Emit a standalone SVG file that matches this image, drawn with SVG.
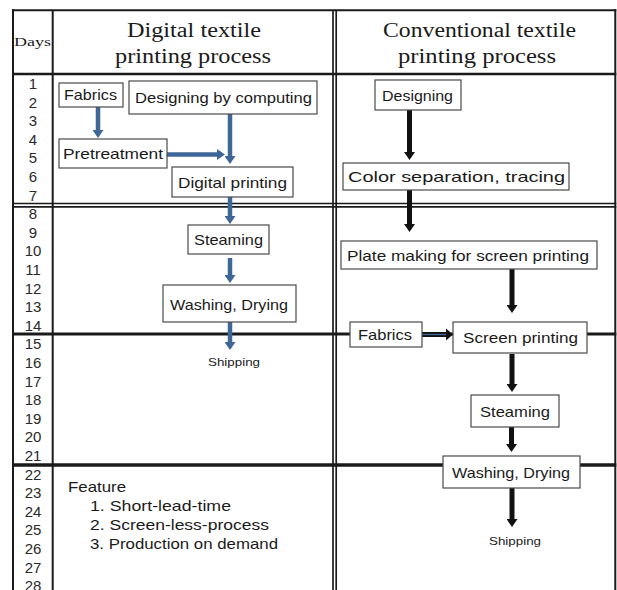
<svg xmlns="http://www.w3.org/2000/svg" width="617" height="590" viewBox="0 0 617 590">
<style>
.grid{stroke:#1a1a1a;fill:none}
.box{fill:#fff;stroke:#4a4a4a;stroke-width:1.2}
.t{font-family:"Liberation Sans",Arial,sans-serif;font-size:15px;fill:#1a1a1a;text-anchor:middle}
.s{font-family:"Liberation Sans",Arial,sans-serif;font-size:11px;fill:#1a1a1a;text-anchor:middle}
.h{font-family:"Liberation Serif","Times New Roman",serif;font-size:20px;fill:#1a1a1a;text-anchor:middle}
.d{font-family:"Liberation Sans",Arial,sans-serif;font-size:15px;fill:#2a2a2a;text-anchor:middle}
.f{font-family:"Liberation Sans",Arial,sans-serif;font-size:15px;fill:#1a1a1a}
.ab{stroke:#3e6797;stroke-width:4.5;fill:none;marker-end:url(#hb)}
.ak{stroke:#111;stroke-width:5;fill:none;marker-end:url(#hk)}
</style>
<defs>
<marker id="hb" markerUnits="userSpaceOnUse" viewBox="0 0 8 11" markerWidth="8" markerHeight="11" refX="0.5" refY="5.5" orient="auto"><path d="M0,0 L8,5.5 L0,11 z" fill="#3e6797"/></marker>
<marker id="hk" markerUnits="userSpaceOnUse" viewBox="0 0 8 11" markerWidth="8" markerHeight="11" refX="0.5" refY="5.5" orient="auto"><path d="M0,0 L8,5.5 L0,11 z" fill="#111"/></marker>
</defs>
<rect width="617" height="590" fill="#fff"/>
<g id="grid">
<line class="grid" x1="12" y1="10.3" x2="616.3" y2="10.3" stroke-width="2"/>
<line class="grid" x1="13" y1="9.3" x2="13" y2="590" stroke-width="2"/>
<line class="grid" x1="615.3" y1="9.3" x2="615.3" y2="590" stroke-width="2"/>
<line class="grid" x1="52.7" y1="10" x2="52.7" y2="590" stroke-width="2"/>
<line class="grid" x1="333" y1="10" x2="333" y2="590" stroke-width="1.7"/>
<line class="grid" x1="336.2" y1="10" x2="336.2" y2="590" stroke-width="1.7"/>
<line class="grid" x1="12" y1="74" x2="616.3" y2="74" stroke-width="2.7"/>
<line class="grid" x1="12" y1="203.5" x2="616.3" y2="203.5" stroke-width="1.7"/>
<line class="grid" x1="12" y1="206.8" x2="616.3" y2="206.8" stroke-width="1.7"/>
<line class="grid" x1="12" y1="334" x2="616.3" y2="334" stroke-width="3"/>
<line class="grid" x1="12" y1="465" x2="616.3" y2="465" stroke-width="3.3"/>
</g>
<g id="headers">
<text class="h" x="32.5" y="46" style="font-size:13px" textLength="37" lengthAdjust="spacingAndGlyphs">Days</text>
<text class="h" x="194" y="37" textLength="134" lengthAdjust="spacingAndGlyphs">Digital textile</text>
<text class="h" x="193" y="62.5" textLength="156" lengthAdjust="spacingAndGlyphs">printing process</text>
<text class="h" x="479.5" y="37" textLength="193" lengthAdjust="spacingAndGlyphs">Conventional textile</text>
<text class="h" x="477" y="62.5" textLength="158" lengthAdjust="spacingAndGlyphs">printing process</text>
</g>
<g id="days">
<text class="d" x="33" y="89">1</text>
<text class="d" x="33" y="107.6">2</text>
<text class="d" x="33" y="126.2">3</text>
<text class="d" x="33" y="144.8">4</text>
<text class="d" x="33" y="163.4">5</text>
<text class="d" x="33" y="182">6</text>
<text class="d" x="33" y="200.6">7</text>
<text class="d" x="33" y="219.2">8</text>
<text class="d" x="33" y="237.8">9</text>
<text class="d" x="33" y="256.4">10</text>
<text class="d" x="33" y="275">11</text>
<text class="d" x="33" y="293.6">12</text>
<text class="d" x="33" y="312.2">13</text>
<text class="d" x="33" y="330.8">14</text>
<text class="d" x="33" y="349.4">15</text>
<text class="d" x="33" y="368">16</text>
<text class="d" x="33" y="386.6">17</text>
<text class="d" x="33" y="405.2">18</text>
<text class="d" x="33" y="423.8">19</text>
<text class="d" x="33" y="442.4">20</text>
<text class="d" x="33" y="461">21</text>
<text class="d" x="33" y="479.6">22</text>
<text class="d" x="33" y="498.2">23</text>
<text class="d" x="33" y="516.8">24</text>
<text class="d" x="33" y="535.4">25</text>
<text class="d" x="33" y="554">26</text>
<text class="d" x="33" y="572.6">27</text>
<text class="d" x="33" y="591">28</text>
</g>
<g id="connectors">
<line class="ab" x1="98" y1="107" x2="98" y2="130.5"/>
<line class="ab" x1="230" y1="114" x2="230" y2="156.5"/>
<line class="ab" x1="167" y1="154.5" x2="217.5" y2="154.5"/>
<line class="ab" x1="230" y1="197" x2="230" y2="216.5"/>
<line class="ab" x1="230" y1="258" x2="230" y2="275.5"/>
<line class="ab" x1="230" y1="322" x2="230" y2="342.5"/>
<line class="ak" x1="409.5" y1="110" x2="409.5" y2="152.5"/>
<line class="ak" x1="409.5" y1="190" x2="409.5" y2="224.5"/>
<line class="ak" x1="512" y1="269" x2="512" y2="305.5"/>
<line class="ak" x1="512" y1="354" x2="512" y2="384.5"/>
<line class="ak" x1="511.5" y1="427" x2="511.5" y2="444.5"/>
<line class="ak" x1="512" y1="488" x2="512" y2="519.5"/>
<line x1="422" y1="334.5" x2="447" y2="334.5" stroke="#111" stroke-width="5"/>
<line x1="422" y1="334.5" x2="447" y2="334.5" stroke="#3e6797" stroke-width="1.3"/>
<path d="M446,328.5 L453,334.5 L446,340.5 z" fill="#111"/>
</g>
<g id="d-fabrics"><rect class="box" x="59" y="83" width="64" height="24"/><text class="t" x="90.5" y="100" textLength="53" lengthAdjust="spacingAndGlyphs">Fabrics</text></g>
<g id="d-designing"><rect class="box" x="129" y="81" width="188" height="33"/><text class="t" x="223.5" y="103" textLength="177" lengthAdjust="spacingAndGlyphs">Designing by computing</text></g>
<g id="d-pretreatment"><rect class="box" x="59" y="139" width="108" height="29"/><text class="t" x="113" y="159" textLength="100" lengthAdjust="spacingAndGlyphs">Pretreatment</text></g>
<g id="d-printing"><rect class="box" x="172" y="167" width="121" height="30"/><text class="t" x="232.5" y="188" textLength="109" lengthAdjust="spacingAndGlyphs">Digital printing</text></g>
<g id="d-steaming"><rect class="box" x="188" y="225" width="81" height="29"/><text class="t" x="228.5" y="245" textLength="69" lengthAdjust="spacingAndGlyphs">Steaming</text></g>
<g id="d-washing"><rect class="box" x="163" y="285" width="133" height="37"/><text class="t" x="229" y="309.5" textLength="118" lengthAdjust="spacingAndGlyphs">Washing, Drying</text></g>
<g id="d-shipping"><text class="s" x="234" y="366" textLength="52" lengthAdjust="spacingAndGlyphs">Shipping</text></g>
<g id="c-designing"><rect class="box" x="375" y="80" width="86" height="30"/><text class="t" x="417.5" y="100.5" textLength="71" lengthAdjust="spacingAndGlyphs">Designing</text></g>
<g id="c-colorsep"><rect class="box" x="343" y="163" width="226" height="27"/><text class="t" x="456.5" y="182" textLength="217" lengthAdjust="spacingAndGlyphs">Color separation, tracing</text></g>
<g id="c-plate"><rect class="box" x="341" y="241" width="256" height="28"/><text class="t" x="468" y="260.5" textLength="242" lengthAdjust="spacingAndGlyphs">Plate making for screen printing</text></g>
<g id="c-fabrics"><rect class="box" x="350" y="322" width="72" height="25"/><text class="t" x="385" y="340" textLength="54" lengthAdjust="spacingAndGlyphs">Fabrics</text></g>
<g id="c-screen"><rect class="box" x="453" y="322" width="134" height="31"/><text class="t" x="520.5" y="343" textLength="115" lengthAdjust="spacingAndGlyphs">Screen printing</text></g>
<g id="c-steaming"><rect class="box" x="471" y="395" width="88" height="32"/><text class="t" x="515" y="416.5" textLength="70" lengthAdjust="spacingAndGlyphs">Steaming</text></g>
<g id="c-washing"><rect class="box" x="443" y="456" width="137" height="32"/><text class="t" x="511" y="477.5" textLength="118" lengthAdjust="spacingAndGlyphs">Washing, Drying</text></g>
<g id="c-shipping"><text class="s" x="515" y="545" textLength="52" lengthAdjust="spacingAndGlyphs">Shipping</text></g>
<g id="feature">
<text class="f" x="68" y="492" textLength="58" lengthAdjust="spacingAndGlyphs">Feature</text>
<text class="f" x="90" y="510.7" textLength="141" lengthAdjust="spacingAndGlyphs">1. Short-lead-time</text>
<text class="f" x="90" y="530" textLength="179" lengthAdjust="spacingAndGlyphs">2. Screen-less-process</text>
<text class="f" x="90" y="549.3" textLength="188" lengthAdjust="spacingAndGlyphs">3. Production on demand</text>
</g>
</svg>
